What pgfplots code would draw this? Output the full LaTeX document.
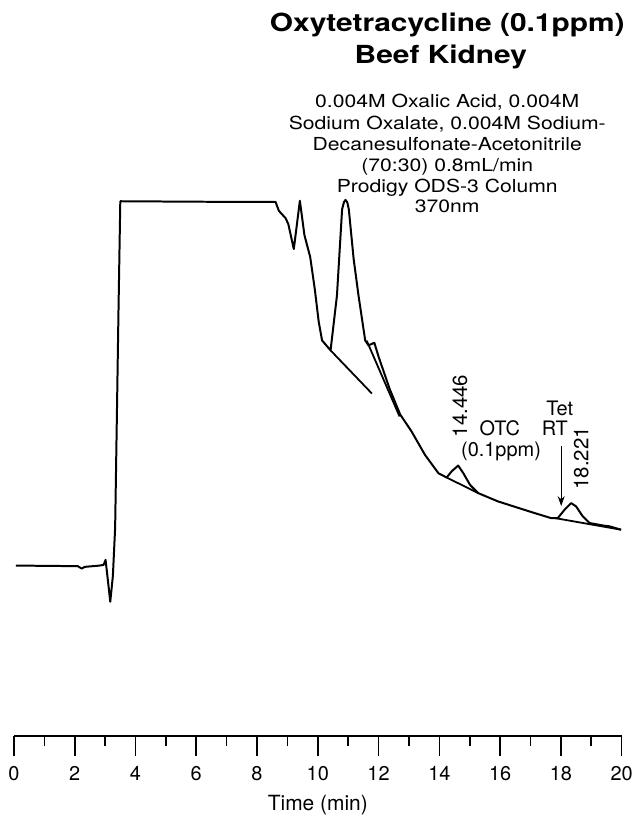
\documentclass[border=0pt]{standalone}
\usepackage{pgfplots}
\pgfplotsset{compat=1.18}
\usepackage{pgfplotstable}
\usepackage{fontspec}
\setmainfont{TeX Gyre Heros}
\usepackage{graphicx}
\usetikzlibrary{arrows.meta}

\pgfplotstableread{
t y
0.066 171.3
2.10 170.7
2.23 168.3
2.33 170
2.82 171.3
2.95 172
3.016 177
3.17 135
3.256 161
3.33 209
3.39 326
3.44 426
3.50 537
6.10 536.5
8.61 536.3
8.72 527.3
8.94 520
9.03 514
9.21 489
9.41 537.5
9.56 503
9.75 481
9.90 449
10.03 416
10.14 397.3
10.42 387.3
10.63 442.3
10.80 529
10.86 536
10.91 538.3
10.97 536
11.02 529
11.18 479
11.34 442.3
11.56 397.3
11.67 392.3
11.86 395
12.00 381
12.36 349
12.71 323
13.09 305.7
13.53 282.3
13.97 264
14.24 259.7
14.41 266
14.62 271.7
14.79 264
15.01 252.3
15.28 244
15.93 235.7
17.03 225
17.67 219
17.90 219
18.12 227.3
18.34 234
18.50 230.7
18.72 220.7
18.94 214
19.43 211.3
19.60 210.7
19.98 207.3
}\chrom

\begin{document}
\begin{tikzpicture}
\begin{axis}[
  scale only axis, width=610pt, height=739pt,
  xmin=0, xmax=20, ymin=0, ymax=739,
  axis x line=bottom, axis y line=none,
  axis line style={-, line width=1.6pt},
  xtick={0,2,...,20}, minor x tick num=1,
  tick align=outside, major tick length=20pt, minor tick length=10pt,
  tick style={line width=1.6pt, black},
  xticklabel style={font=\fontsize{20}{20}\selectfont, yshift=-7pt},
  /pgf/number format/assume math mode=true,
  clip=false,
]
\path (axis cs:-0.459,-79) rectangle (axis cs:20.492,739);
\addplot[black, line width=2pt, line join=round] table[x=t,y=y] {\chrom};
% baselines
\addplot[black, line width=1.8pt] coordinates {(10.42,387.3) (11.78,344)};
\addplot[black, line width=1.8pt] coordinates {(11.61,397) (12.69,321)};
\addplot[black, line width=1.8pt] coordinates {(14.24,259.7) (15.28,244)};
\addplot[black, line width=1.8pt] coordinates {(17.80,219) (19.98,207.3)};
% arrow
\addplot[black, line width=1.1pt, -{Stealth[length=10pt,width=7pt]}] coordinates {(18.01,291) (18.01,231)};

% titles
\node[anchor=base, font=\bfseries\fontsize{25}{25}\selectfont] at (axis cs:14.26,707.3) {\scalebox{1.2}[1]{Oxytetracycline (0.1ppm)}};
\node[anchor=base, font=\bfseries\fontsize{25}{25}\selectfont] at (axis cs:14.05,675.5) {\scalebox{1.2}[1]{Beef Kidney}};
\begin{scope}[every node/.style={anchor=base, font=\fontsize{18}{18}\selectfont}]
\node at (axis cs:14.26,630.7) {\scalebox{1.18}[1]{0.004M Oxalic Acid, 0.004M}};
\node at (axis cs:14.26,609) {\scalebox{1.18}[1]{Sodium Oxalate, 0.004M Sodium-}};
\node at (axis cs:14.26,587.5) {\scalebox{1.18}[1]{Decanesulfonate-Acetonitrile}};
\node at (axis cs:14.26,567.3) {\scalebox{1.18}[1]{(70:30) 0.8mL/min}};
\node at (axis cs:14.26,545.7) {\scalebox{1.18}[1]{Prodigy ODS-3 Column}};
\node at (axis cs:14.26,525.7) {\scalebox{1.18}[1]{370nm}};
\end{scope}
% peak labels
\node[rotate=90, font=\fontsize{20.5}{20.5}\selectfont] at (axis cs:14.68,331.5) {14.446};
\node[rotate=90, font=\fontsize{20.5}{20.5}\selectfont] at (axis cs:18.67,279) {18.221};
\node[anchor=base, inner sep=0pt, font=\fontsize{20}{20}\selectfont] at (axis cs:15.99,301.5) {OTC};
\node[anchor=base, inner sep=0pt, font=\fontsize{20}{20}\selectfont] at (axis cs:16.03,281) {(0.1ppm)};
\node[anchor=base, inner sep=0pt, font=\fontsize{20}{20}\selectfont] at (axis cs:17.96,322) {Tet};
\node[anchor=base, inner sep=0pt, font=\fontsize{20}{20}\selectfont] at (axis cs:17.80,301.7) {RT};
\node[anchor=base, font=\fontsize{21}{21}\selectfont] at (axis cs:10,-74.3) {Time (min)};
\end{axis}
\end{tikzpicture}
\end{document}
